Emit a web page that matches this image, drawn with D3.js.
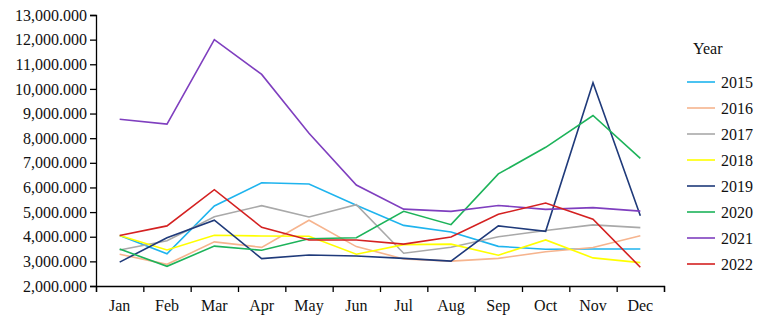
<!DOCTYPE html>
<html>
<head>
<meta charset="utf-8">
<script src="https://cdn.jsdelivr.net/npm/d3@7"></script>
<style>
  body { margin: 0; background: #fff; }
</style>
</head>
<body>
<div id="chart"></div>
<script>
// monthly values per year, in thousands
const months = ["Jan", "Feb", "Mar", "Apr", "May", "Jun", "Jul", "Aug", "Sep", "Oct", "Nov", "Dec"];
const years = ["2015", "2016", "2017", "2018", "2019", "2020", "2021", "2022"];
const yTicks = [2000, 3000, 4000, 5000, 6000, 7000, 8000, 9000, 10000, 11000, 12000, 13000];

const v2015 = [4050, 3310, 5250, 6190, 6140, 5280, 4460, 4190, 3610, 3490, 3500, 3500];
const v2016 = [3290, 2880, 3790, 3570, 4670, 3600, 3100, 3010, 3120, 3390, 3560, 4040];
const v2017 = [3460, 3840, 4810, 5260, 4800, 5300, 3330, 3570, 4000, 4250, 4480, 4370];
const v2018 = [4050, 3460, 4060, 4030, 4020, 3290, 3680, 3700, 3250, 3870, 3140, 2950];
const v2019 = [2970, 3960, 4670, 3110, 3260, 3220, 3120, 3010, 4440, 4220, 10250, 4850];
const v2020 = [3500, 2800, 3620, 3450, 3920, 3960, 5030, 4490, 6550, 7630, 8920, 7180];
const v2021 = [8770, 8570, 12000, 10590, 8200, 6100, 5120, 5030, 5270, 5110, 5180, 5040];
const v2022 = [4050, 4440, 5910, 4380, 3870, 3870, 3700, 3990, 4910, 5370, 4710, 2760];

const colors = ["#1fb4ee", "#f6b48e", "#a9a9a9", "#ffff00", "#1f3a7a", "#1db35a", "#7f3fbf", "#d42121"];
const serif = "'Liberation Serif', 'Times New Roman', Times, serif";

const series = [v2015, v2016, v2017, v2018, v2019, v2020, v2021, v2022]
    .map((vals, i) => ({ year: years[i], color: colors[i], values: vals }));

const width = 766, height = 329;
const plot = { left: 96, right: 664, top: 15, bottom: 286 };

const svg = d3.select("#chart").append("svg")
    .attr("width", width)
    .attr("height", height)
    .attr("font-family", serif);

let x = d3.scaleBand().domain(months).range([plot.left, plot.right]).padding(0);
let xEdge = d3.scaleLinear().domain([0, months.length]).range([plot.left, plot.right]);
let y = d3.scaleLinear().domain([2000, 13000]).range([plot.bottom, plot.top]);

// y axis
let yAxis = svg.append("g")
    .attr("transform", `translate(${plot.left},0)`)
    .call(d3.axisLeft(y).tickValues(yTicks).tickSize(6).tickPadding(3)
        .tickFormat(d => d3.format(",.3f")(d)));
yAxis.attr("font-family", serif);
yAxis.selectAll("text").attr("font-size", 16).attr("fill", "#111");
yAxis.selectAll("line, path").attr("stroke", "#000").attr("stroke-width", 1.3);

// x axis ticks sit on the band edges
let xTicks = svg.append("g")
    .attr("transform", `translate(0,${plot.bottom})`)
    .call(d3.axisBottom(xEdge).ticks(12).tickSize(6).tickFormat(""));
xTicks.selectAll("line, path").attr("stroke", "#000").attr("stroke-width", 1.3);

let xLabels = svg.append("g")
    .attr("transform", `translate(0,${plot.bottom})`)
    .call(d3.axisBottom(x).tickSize(0).tickPadding(14));
xLabels.attr("font-family", serif);
xLabels.select(".domain").remove();
xLabels.selectAll("text").attr("font-size", 16).attr("fill", "#111");

// lines
let line = d3.line()
    .x((d, i) => x(months[i]) + x.bandwidth() / 2)
    .y(d => y(d));

svg.selectAll(".series")
    .data(series)
    .enter()
    .append("path")
    .attr("class", "series")
    .attr("fill", "none")
    .attr("stroke", d => d.color)
    .attr("stroke-width", 1.6)
    .attr("d", d => line(d.values));

// legend
let legend = svg.append("g").attr("transform", "translate(687,0)");
legend.append("text")
    .attr("x", 6).attr("y", 54)
    .attr("font-size", 16).attr("fill", "#111")
    .text("Year");

let items = legend.selectAll(".item")
    .data(series)
    .enter()
    .append("g")
    .attr("transform", (d, i) => `translate(0,${82 + i * 26})`);
items.append("line")
    .attr("x1", 0).attr("x2", 28)
    .attr("stroke", d => d.color)
    .attr("stroke-width", 1.6);
items.append("text")
    .attr("x", 34).attr("y", 5.5)
    .attr("font-size", 16).attr("fill", "#111")
    .text(d => d.year);
</script>
</body>
</html>
